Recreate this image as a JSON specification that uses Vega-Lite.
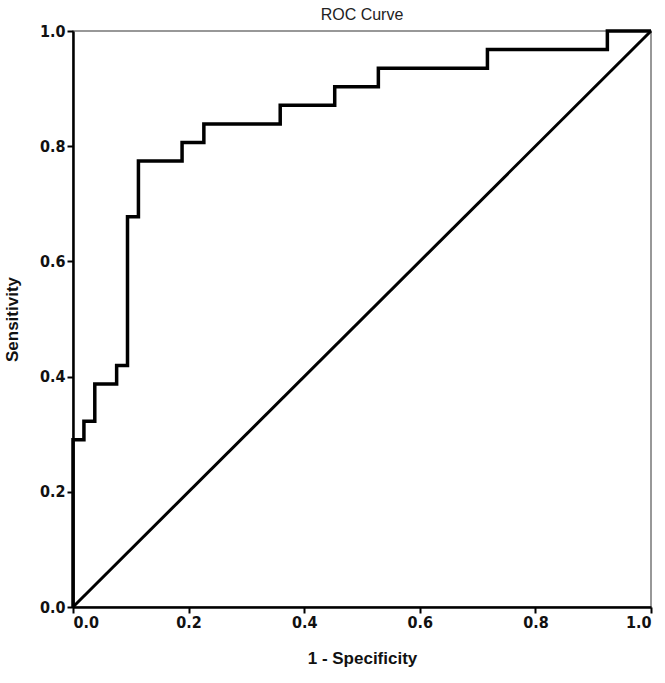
{
  "$schema": "https://vega.github.io/schema/vega-lite/v6.json",
  "width": 578,
  "height": 576,
  "autosize": "none",
  "padding": {"left": 73, "top": 31, "right": 14, "bottom": 76},
  "background": "white",
  "title": {"text": "ROC Curve", "font": "Liberation Sans", "fontSize": 16, "fontWeight": "normal", "color": "#222", "offset": 0, "anchor": "middle"},
  "config": {
    "view": {"stroke": "#777", "strokeWidth": 1.5},
    "axis": {
      "grid": false,
      "domainColor": "#000",
      "domainWidth": 2.5,
      "tickColor": "#000",
      "tickWidth": 2,
      "tickSize": 6,
      "labelFont": "DejaVu Sans Condensed, Liberation Sans",
      "labelFontWeight": "bold",
      "labelFontSize": 16,
      "labelColor": "#111",
      "titleFont": "Liberation Sans",
      "titleFontWeight": "bold",
      "titleFontSize": 17,
      "titleColor": "#111"
    }
  },
  "layer": [
    {
      "data": {"values": [
        {"step": 0, "fpr": 0.0, "tpr": 0.0},
        {"step": 1, "fpr": 0.0, "tpr": 0.2903},
        {"step": 2, "fpr": 0.0189, "tpr": 0.3226},
        {"step": 3, "fpr": 0.0377, "tpr": 0.3871},
        {"step": 4, "fpr": 0.0755, "tpr": 0.4194},
        {"step": 5, "fpr": 0.0943, "tpr": 0.6774},
        {"step": 6, "fpr": 0.1132, "tpr": 0.7742},
        {"step": 7, "fpr": 0.1887, "tpr": 0.8065},
        {"step": 8, "fpr": 0.2264, "tpr": 0.8387},
        {"step": 9, "fpr": 0.3585, "tpr": 0.8710},
        {"step": 10, "fpr": 0.4528, "tpr": 0.9032},
        {"step": 11, "fpr": 0.5283, "tpr": 0.9355},
        {"step": 12, "fpr": 0.7170, "tpr": 0.9677},
        {"step": 13, "fpr": 0.9245, "tpr": 1.0},
        {"step": 14, "fpr": 1.0, "tpr": 1.0}
      ]},
      "mark": {"type": "line", "interpolate": "step-after", "color": "#000", "strokeWidth": 3.5, "clip": false},
      "encoding": {
        "x": {"field": "fpr", "type": "quantitative", "scale": {"domain": [0, 1]}, "axis": {"title": "1 - Specificity", "tickCount": 5, "format": ".1f", "titlePadding": 20, "labelPadding": 1}},
        "y": {"field": "tpr", "type": "quantitative", "scale": {"domain": [0, 1]}, "axis": {"title": "Sensitivity", "tickCount": 5, "format": ".1f", "titlePadding": 18, "labelPadding": 2}},
        "order": {"field": "step", "type": "quantitative"}
      }
    },
    {
      "data": {"values": [
        {"fpr": 0.0, "tpr": 0.0},
        {"fpr": 1.0, "tpr": 1.0}
      ]},
      "mark": {"type": "line", "color": "#000", "strokeWidth": 3, "clip": false},
      "encoding": {
        "x": {"field": "fpr", "type": "quantitative"},
        "y": {"field": "tpr", "type": "quantitative"}
      }
    }
  ]
}
